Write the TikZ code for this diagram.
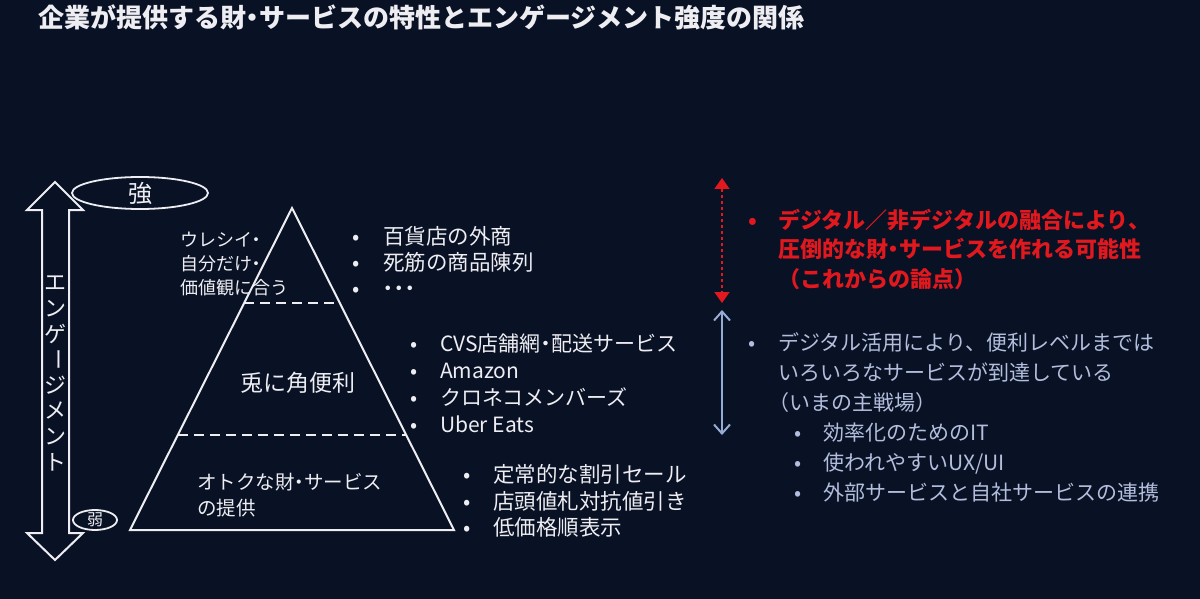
\documentclass[tikz,border=0pt]{standalone}
\usepackage{fontspec}
\setmainfont{Noto Sans CJK JP}
\usetikzlibrary{arrows.meta,calc,shapes.geometric}
\definecolor{bgc}{RGB}{9,17,37}
\definecolor{wt}{RGB}{238,238,242}
\definecolor{redc}{RGB}{225,25,30}
\definecolor{bluet}{RGB}{178,190,220}
\definecolor{bluea}{RGB}{150,172,215}
\newcommand\bul[1]{\makebox[#1][l]{•}}
\newcommand\nd{\makebox[0.5em][c]{・}}
\tikzset{
  lst/.style={anchor=west, inner sep=0pt, align=left, text=wt},
  outline/.style={draw=wt, line width=2pt, line join=miter},
  divider/.style={draw=wt, line width=2pt, dash pattern=on 10pt off 6pt},
  oval/.style={draw=wt, ellipse, line width=1.8pt, inner sep=0pt, text=wt},
  vchar/.style={text=wt, inner sep=0pt, font=\fontsize{22}{24}\selectfont},
}
\begin{document}
\begin{tikzpicture}[x=1pt,y=-1pt]
\useasboundingbox[fill=bgc] (0,0) rectangle (1200,599);
% title
\node[anchor=west, inner sep=0pt, text=wt, font=\fontsize{26}{30}\selectfont\bfseries] (title) at (38,17) {企業が提供する財\nd サービスの特性とエンゲージメント強度の関係};
% hollow double arrow
\draw[outline] (55,182) -- (83,210) -- (69,210) -- (69,533) -- (83,533) -- (55,560) -- (27,533) -- (42,533) -- (42,210) -- (27,210) -- cycle;
\node[vchar] (v1) at (55,283) {エ};
\node[vchar] (v2) at (55,308.6) {ン};
\node[vchar] (v3) at (55,334.1) {ゲ};
\node[vchar, rotate=-90] (v4) at (55,359.7) {ー};
\node[vchar] (v5) at (55,385.3) {ジ};
\node[vchar] (v6) at (55,410.9) {メ};
\node[vchar] (v7) at (55,436.4) {ン};
\node[vchar] (v8) at (55,462) {ト};
% ovals
\node[oval, minimum width=136pt, minimum height=32pt, font=\fontsize{24}{28}\selectfont] (strong) at (140,193) {強};
\node[oval, minimum width=44pt, minimum height=20pt, font=\fontsize{16}{18}\selectfont] (weak) at (95,520) {弱};
% pyramid
\coordinate (apex) at (292,208);
\coordinate (bl) at (130,530);
\coordinate (br) at (454,530);
\draw[outline] (apex) -- (bl) -- (br) -- cycle;
\draw[divider] ($(apex)!0.295!(bl)$) -- ($(apex)!0.295!(br)$);
\draw[divider] ($(apex)!0.705!(bl)$) -- ($(apex)!0.705!(br)$);
\node[lst, font=\fontsize{18}{24}\selectfont] (tiertop) at (180,264) {ウレシイ\nd\\自分だけ\nd\\価値観に合う};
\node[text=wt, inner sep=0pt, font=\fontsize{23}{28}\selectfont] (tiermid) at (298,383) {兎に角便利};
\node[lst, font=\fontsize{19.5}{26}\selectfont] (tierbot) at (197,495) {オトクな財\nd サービス\\の提供};
% lists
\node[lst, font=\fontsize{21.5}{26}\selectfont] (list1) at (352,261) {\bul{31pt}百貨店の外商\\\bul{31pt}死筋の商品陳列\\\bul{31pt}\nd\nd\nd};
\node[lst, font=\fontsize{21}{27}\selectfont] (list2) at (410,383.5) {\bul{30pt}CVS店舗網\nd 配送サービス\\\bul{30pt}Amazon\\\bul{30pt}クロネコメンバーズ\\\bul{30pt}Uber Eats};
\node[lst, font=\fontsize{21.5}{26.5}\selectfont] (list3) at (463,501) {\bul{30pt}定常的な割引セール\\\bul{30pt}店頭値札対抗値引き\\\bul{30pt}低価格順表示};
% right side
\coordinate (ra1) at (722,178);
\coordinate (ra2) at (722,303);
\draw[redc, line width=1.5pt, dash pattern=on 3pt off 3pt, {Triangle[length=11pt,width=15pt]}-{Triangle[length=11pt,width=15pt]}] (ra1) -- (ra2);
\coordinate (ba1) at (722,310);
\coordinate (ba2) at (722,435);
\draw[bluea, line width=2pt, {Straight Barb[length=9pt,width=16pt]}-{Straight Barb[length=9pt,width=16pt]}] (ba1) -- (ba2);
\node[lst, text=redc, font=\fontsize{22}{29.5}\selectfont\bfseries] (future) at (748,249) {\bul{30pt}デジタル／非デジタルの融合により、\\\hspace*{30pt}圧倒的な財\nd サービスを作れる可能性\\\hspace*{30pt}（これからの論点）};
\node[lst, text=bluet, font=\fontsize{21}{30}\selectfont] (now) at (748,417.5) {\bul{30pt}デジタル活用により、便利レベルまでは\\\hspace*{30pt}いろいろなサービスが到達している\\\hspace*{20pt}（いまの主戦場）\\\hspace*{46pt}\bul{29pt}効率化のためのIT\\\hspace*{46pt}\bul{29pt}使われやすいUX/UI\\\hspace*{46pt}\bul{29pt}外部サービスと自社サービスの連携};
\end{tikzpicture}
\end{document}
